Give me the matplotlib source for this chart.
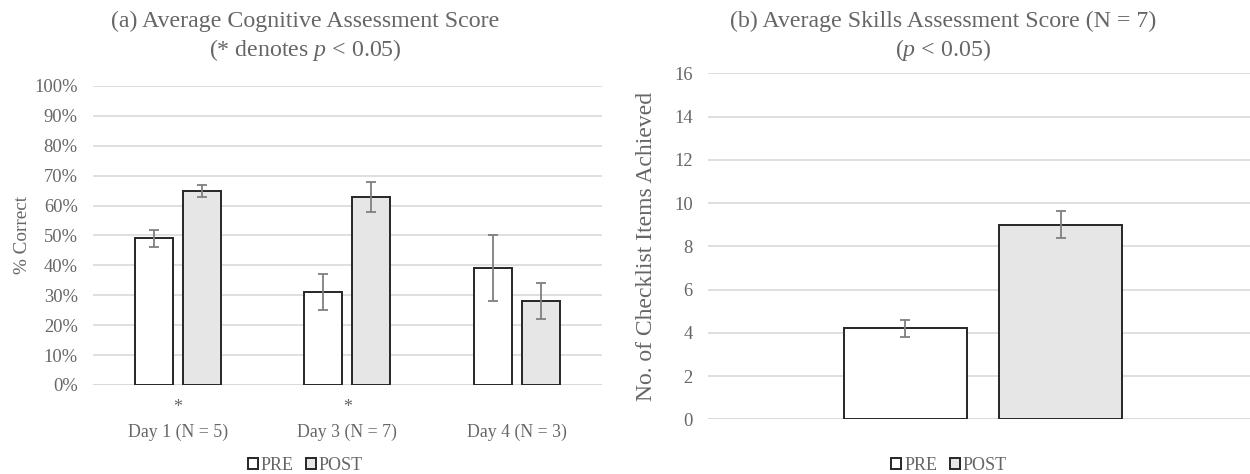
import numpy as np
import matplotlib.pyplot as plt

plt.rcParams['font.family'] = ['Liberation Serif', 'DejaVu Serif']
plt.rcParams['mathtext.fontset'] = 'custom'
plt.rcParams['mathtext.rm'] = 'Liberation Serif'
plt.rcParams['mathtext.it'] = 'Liberation Serif:italic'

# panel (a) data
days = ['Day 1 (N = 5)', 'Day 3 (N = 7)', 'Day 4 (N = 3)']
signif = ['*', '*', '']
pre_a = [0.49, 0.31, 0.39]
pre_a_err = [0.03, 0.06, 0.11]
post_a = [0.65, 0.63, 0.28]
post_a_err = [0.02, 0.05, 0.06]

# panel (b) data
pre_b = [4.2]
pre_b_err = [0.38]
post_b = [9.0]
post_b_err = [0.63]

TXT = '#666666'
GRID = '#d9d9d9'
EDGE = '#262626'
POST_FILL = '#e7e6e6'
ERR = '#7f7f7f'
W = 0.224
GAP = 0.059

fig = plt.figure(figsize=(12.5, 4.74), dpi=100)
ax1 = fig.add_axes([0.0744, 0.1878, 0.4068, 0.6308])
ax2 = fig.add_axes([0.5664, 0.1154, 0.44, 0.7300])


def style(ax):
    for s in ax.spines.values():
        s.set_visible(False)
    ax.grid(axis='y', color=GRID, linewidth=1.2)
    ax.set_axisbelow(True)
    ax.tick_params(length=0, colors=TXT, labelsize=13.3, pad=11)
    ax.axhline(0, color=GRID, linewidth=1.2, zorder=0.5)


def draw(ax, x, pre, pre_err, post, post_err):
    off = (W + GAP) / 2
    ax.bar(x - off, pre, W, color='white', edgecolor=EDGE, linewidth=1.4, label='PRE', zorder=2)
    ax.bar(x + off, post, W, color=POST_FILL, edgecolor=EDGE, linewidth=1.4, label='POST', zorder=2)
    ekw = dict(fmt='none', ecolor=ERR, elinewidth=1.3, capsize=3.3, capthick=1.3, zorder=3)
    ax.errorbar(x - off, pre, yerr=pre_err, **ekw)
    ax.errorbar(x + off, post, yerr=post_err, **ekw)


def legend(ax, cx):
    ax.legend(loc='center', bbox_to_anchor=(cx, 1 - 465 / 474), bbox_transform=fig.transFigure,
              ncol=2, frameon=False, fontsize=13, handlelength=0.55, handleheight=0.55,
              handletextpad=0.15, columnspacing=0.7, labelcolor=TXT)


# (a)
x = np.arange(len(days))
style(ax1)
draw(ax1, x, pre_a, pre_a_err, post_a, post_a_err)
ax1.set_xlim(-0.5, len(days) - 0.5)
ax1.set_ylim(0, 1)
ticks_a = np.arange(0, 1.01, 0.1)
ax1.set_yticks(ticks_a)
ax1.set_yticklabels([f'{int(round(v * 100))}%' for v in ticks_a])
ax1.set_xticks(x)
ax1.set_xticklabels([f'{s}\n{d}' for s, d in zip(signif, days)], linespacing=1.6, fontsize=12.8)
ax1.tick_params(axis='x', pad=10)
ax1.set_ylabel('% Correct', color=TXT, fontsize=13.8, labelpad=2)
fig.text(305 / 1250, 1 - 21 / 474, '(a) Average Cognitive Assessment Score', ha='center',
         va='center', fontsize=17.2, color=TXT)
fig.text(305 / 1250, 1 - 50 / 474, '(* denotes $p$ < 0.05)', ha='center', va='center',
         fontsize=17.2, color=TXT)
legend(ax1, 305.5 / 1250)

# (b)
style(ax2)
draw(ax2, np.array([0]), pre_b, pre_b_err, post_b, post_b_err)
ax2.set_xlim(-0.5, 0.5)
ax2.set_ylim(0, 16)
ax2.set_yticks(np.arange(0, 17, 2))
ax2.set_xticks([])
ax2.set_ylabel('No. of Checklist Items Achieved', color=TXT, fontsize=17, labelpad=12)
fig.text(943 / 1250, 1 - 21 / 474, '(b) Average Skills Assessment Score (N = 7)', ha='center',
         va='center', fontsize=17.2, color=TXT)
fig.text(943 / 1250, 1 - 50 / 474, '($p$ < 0.05)', ha='center', va='center', fontsize=17.2,
         color=TXT)
legend(ax2, 949 / 1250)

fig.savefig('out.png', dpi=100)
